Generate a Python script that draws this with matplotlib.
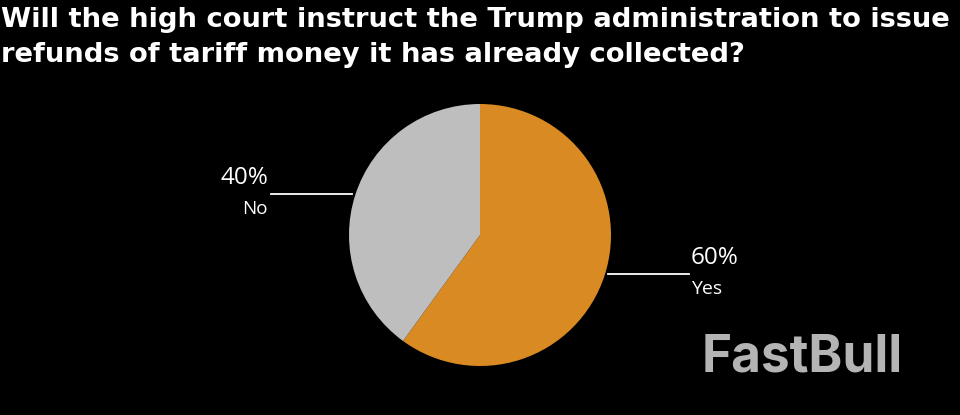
import matplotlib
matplotlib.use('Agg')
from matplotlib import pyplot as plt

categories = ['Yes', 'No']
values = [60, 40]
colors = ['#DA8A22', '#BEBEBE']

W, H = 960, 415

fig = plt.figure(figsize=(W / 100, H / 100), dpi=100, facecolor='black')

# full figure overlay in pixel coords for text and leader lines
bg = fig.add_axes([0, 0, 1, 1])
bg.set_xlim(0, W)
bg.set_ylim(H, 0)
bg.axis('off')

# pie centre (480, 235), radius 131 px
ax = fig.add_axes([(480 - 131) / W, 1 - (235 + 131) / H, 262 / W, 262 / H])
ax.pie(values, colors=colors, startangle=90, counterclock=False, radius=1.0)
ax.set_xlim(-1, 1)
ax.set_ylim(-1, 1)

title_lines = ['Will the high court instruct the Trump administration to issue',
               'refunds of tariff money it has already collected?']
bg.text(1, 20, title_lines[0], color='white', fontsize=19.7, fontweight='bold',
        family='DejaVu Sans', va='center', ha='left')
bg.text(1, 55, title_lines[1], color='white', fontsize=19.7, fontweight='bold',
        family='DejaVu Sans', va='center', ha='left')

# leader lines
bg.plot([608, 689], [274, 274], color='white', lw=1.3)
bg.plot([271, 352], [194, 194], color='white', lw=1.3)

# slice labels
bg.text(691, 258, '%d%%' % values[0], color='white', fontsize=17.5, family='Open Sans', va='center', ha='left')
bg.text(691, 289, categories[0], color='white', fontsize=14, family='Open Sans', va='center', ha='left')
bg.text(268, 178, '%d%%' % values[1], color='white', fontsize=17.5, family='Open Sans', va='center', ha='right')
bg.text(268, 209, categories[1], color='white', fontsize=13.5, family='Open Sans', va='center', ha='right')

# watermark
bg.text(702, 358, 'FastBull', color='#B4B4B4', fontsize=37, fontweight='bold',
        family='Inter', va='center', ha='left')

fig.savefig('out.png', dpi=100, facecolor='black')
